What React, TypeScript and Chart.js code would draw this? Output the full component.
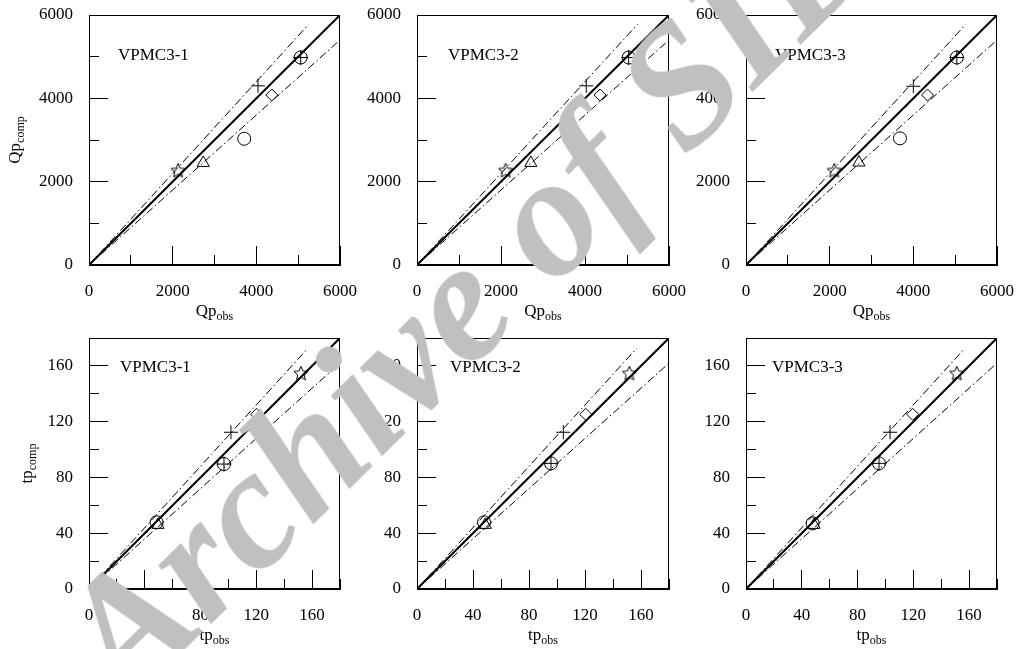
import React, { useEffect, useRef } from "react";
import { Chart, registerables } from "chart.js";

Chart.register(...registerables);

// ---------------- data ----------------
const panelNames = ["VPMC3-1", "VPMC3-2", "VPMC3-3"];
const markerNames = ["star", "triangle", "circle", "plus", "diamond", "circle-plus"];

// Peak discharge Qp: observed / computed
const qpObs1 = [2130, 2730, 3710, 4040, 4370, 5060];
const qpComp1 = [2270, 2450, 3030, 4300, 4080, 4980];
const qpObs2 = [2110, 2710, 3700, 4030, 4360, 5040];
const qpComp2 = [2270, 2450, 3030, 4300, 4080, 4980];
const qpObs3 = [2110, 2700, 3680, 4000, 4340, 5040];
const qpComp3 = [2270, 2460, 3040, 4290, 4080, 4980];

// Time to peak tp: observed / computed
const tpObs1 = [152, 49.5, 48.5, 101.8, 120.2, 96.8];
const tpComp1 = [154.7, 46, 47.8, 112.4, 125.3, 89.6];
const tpObs2 = [151.7, 48.8, 47.9, 104.5, 120.5, 95.7];
const tpComp2 = [154.7, 46, 47.8, 112.4, 125.3, 90.1];
const tpObs3 = [151.1, 48.8, 47.8, 103.3, 119.5, 95.4];
const tpComp3 = [154.7, 46, 47.1, 112.4, 125.3, 90.1];

// reference lines (comp = ratio * obs), drawn from 0 to the given obs value
const refRatios = [1, 1.1, 0.9];
const qpRefEnds = [6000, 5250, 6000];
const tpRefEnds = [180, 157, 180];

const qpMax = 6000;
const tpMax = 180;
const qpMajorTicks = [0, 2000, 4000, 6000];
const qpMinorTicks = [1000, 3000, 5000];
const tpMajorTicks = [0, 40, 80, 120, 160];
const tpMinorTicks = [20, 60, 100, 140, 180];

// ---------------- layout ----------------
const plotLeft = [89, 417, 746];
const plotRight = [340, 669, 997];
const plotTop = [15, 338];
const plotBottom = [265, 589];
const AXIS_W = 89;
const AXIS_H = 60;
const PAD_TOP = 15;
const PAD_RIGHT = 25;
const labelDx = [
  [29, 31, 29],
  [31, 33, 26],
];
const labelDy = [41, 30];
const yTitleBaseline = [20, 32];

const FONT_FAMILY = '"Liberation Serif", "Times New Roman", serif';
const tickFont = { family: FONT_FAMILY, size: 17 };

type PanelSpec = {
  row: number;
  col: number;
  name: string;
  obs: number[];
  comp: number[];
};

const panels: PanelSpec[] = [
  { row: 0, col: 0, name: panelNames[0], obs: qpObs1, comp: qpComp1 },
  { row: 0, col: 1, name: panelNames[1], obs: qpObs2, comp: qpComp2 },
  { row: 0, col: 2, name: panelNames[2], obs: qpObs3, comp: qpComp3 },
  { row: 1, col: 0, name: panelNames[0], obs: tpObs1, comp: tpComp1 },
  { row: 1, col: 1, name: panelNames[1], obs: tpObs2, comp: tpComp2 },
  { row: 1, col: 2, name: panelNames[2], obs: tpObs3, comp: tpComp3 },
];

let starImg: HTMLCanvasElement | null = null;
function getStar(): HTMLCanvasElement {
  if (starImg) return starImg;
  const size = 18;
  const c = document.createElement("canvas");
  c.width = size;
  c.height = size;
  const g = c.getContext("2d")!;
  g.translate(size / 2, size / 2 + 0.5);
  g.beginPath();
  for (let k = 0; k < 10; k++) {
    const r = k % 2 === 0 ? 7.5 : 3.4;
    const a = -Math.PI / 2 + (k * Math.PI) / 5;
    g.lineTo(r * Math.cos(a), r * Math.sin(a));
  }
  g.closePath();
  g.strokeStyle = "#000";
  g.lineWidth = 1;
  g.stroke();
  starImg = c;
  return c;
}

function drawSubText(
  ctx: CanvasRenderingContext2D,
  main: string,
  sub: string,
  cx: number,
  baseline: number
) {
  ctx.font = `17px ${FONT_FAMILY}`;
  const w1 = ctx.measureText(main).width;
  ctx.font = `12px ${FONT_FAMILY}`;
  const w2 = ctx.measureText(sub).width;
  const x0 = cx - (w1 + w2) / 2;
  ctx.textAlign = "left";
  ctx.textBaseline = "alphabetic";
  ctx.font = `17px ${FONT_FAMILY}`;
  ctx.fillText(main, x0, baseline);
  ctx.font = `12px ${FONT_FAMILY}`;
  ctx.fillText(sub, x0 + w1, baseline + 4);
}

function zeroPadding(s: any) {
  s.paddingLeft = 0;
  s.paddingRight = 0;
  s.paddingTop = 0;
  s.paddingBottom = 0;
}

function buildConfig(p: PanelSpec): any {
  const isQp = p.row === 0;
  const max = isQp ? qpMax : tpMax;
  const refEnds = isQp ? qpRefEnds : tpRefEnds;
  const major = isQp ? qpMajorTicks : tpMajorTicks;
  const minor = isQp ? qpMinorTicks : tpMinorTicks;
  const main = isQp ? "Qp" : "tp";

  const datasets: any[] = refRatios.map((r, i) => ({
    data: [
      { x: 0, y: 0 },
      { x: refEnds[i], y: refEnds[i] * r },
    ],
    showLine: true,
    borderColor: "#000",
    borderWidth: i === 0 ? 2 : 1,
    borderDash: i === 0 ? [] : [8, 3, 1.5, 3],
    pointRadius: 0,
    fill: false,
  }));

  markerNames.forEach((m, i) => {
    const pt = [{ x: p.obs[i], y: p.comp[i] }];
    const base = {
      data: pt,
      borderColor: "#000",
      backgroundColor: "rgba(0,0,0,0)",
      pointBorderWidth: 1,
      showLine: false,
    };
    if (m === "star") datasets.push({ ...base, pointStyle: getStar(), pointRadius: 7 });
    else if (m === "triangle") datasets.push({ ...base, pointStyle: "triangle", pointRadius: 7 });
    else if (m === "circle") datasets.push({ ...base, pointStyle: "circle", pointRadius: 6.5 });
    else if (m === "plus") datasets.push({ ...base, pointStyle: "cross", pointRadius: 7 });
    else if (m === "diamond") datasets.push({ ...base, pointStyle: "rectRot", pointRadius: 6 });
    else {
      datasets.push({ ...base, pointStyle: "circle", pointRadius: 6.5 });
      datasets.push({ ...base, pointStyle: "cross", pointRadius: 7.5 });
    }
  });

  const majorScale = (axis: "x" | "y", position: string) => ({
    type: "linear",
    axis,
    position,
    min: 0,
    max,
    afterBuildTicks: (s: any) => {
      s.ticks = major.map((v) => ({ value: v }));
    },
    afterFit: (s: any) => {
      if (axis === "x") s.height = AXIS_H;
      else s.width = AXIS_W;
      zeroPadding(s);
    },
    grid: {
      display: true,
      drawOnChartArea: false,
      drawTicks: true,
      tickLength: -19,
      color: "#000",
      lineWidth: 1,
    },
    border: { display: true, color: "#000", width: 1 },
    ticks: {
      padding: 35,
      color: "#000",
      font: tickFont,
      autoSkip: false,
      maxRotation: 0,
      callback: (v: any) => String(v),
    },
  });

  const minorScale = (axis: "x" | "y", position: string) => ({
    type: "linear",
    axis,
    position,
    min: 0,
    max,
    weight: -10,
    afterBuildTicks: (s: any) => {
      s.ticks = minor.map((v) => ({ value: v }));
    },
    afterFit: (s: any) => {
      if (axis === "x") s.height = 0;
      else s.width = 0;
      zeroPadding(s);
    },
    grid: {
      display: true,
      drawOnChartArea: false,
      drawTicks: true,
      tickLength: -10,
      color: "#000",
      lineWidth: 1,
    },
    border: { display: false },
    ticks: { display: false, padding: 0 },
  });

  const decor = {
    id: "panelDecor",
    afterDraw(chart: any) {
      const { ctx, chartArea: a } = chart;
      ctx.save();
      ctx.strokeStyle = "#000";
      ctx.lineWidth = 1;
      ctx.strokeRect(
        Math.round(a.left) + 0.5,
        Math.round(a.top) + 0.5,
        Math.round(a.right - a.left) - 1,
        Math.round(a.bottom - a.top) - 1
      );
      ctx.fillStyle = "#000";
      ctx.font = `17px ${FONT_FAMILY}`;
      ctx.textAlign = "left";
      ctx.textBaseline = "middle";
      ctx.fillText(p.name, a.left + labelDx[p.row][p.col], a.top + labelDy[p.row]);
      drawSubText(ctx, main, "obs", (a.left + a.right) / 2, a.bottom + 51);
      if (p.col === 0) {
        ctx.translate(yTitleBaseline[p.row], (a.top + a.bottom) / 2);
        ctx.rotate(-Math.PI / 2);
        drawSubText(ctx, main, "comp", 0, 0);
      }
      ctx.restore();
    },
  };

  return {
    type: "scatter",
    data: { datasets },
    options: {
      animation: false,
      responsive: false,
      maintainAspectRatio: false,
      events: [],
      layout: { padding: { top: PAD_TOP, right: PAD_RIGHT, left: 0, bottom: 0 } },
      plugins: { legend: { display: false }, tooltip: { enabled: false } },
      scales: {
        x: majorScale("x", "bottom"),
        xm: minorScale("x", "bottom"),
        y: majorScale("y", "left"),
        ym: minorScale("y", "left"),
      },
    },
    plugins: [decor],
  };
}

function Panel({ p }: { p: PanelSpec }) {
  const ref = useRef<HTMLCanvasElement>(null);
  useEffect(() => {
    const chart = new Chart(ref.current as HTMLCanvasElement, buildConfig(p));
    return () => chart.destroy();
  }, [p]);
  const left = plotLeft[p.col] - AXIS_W;
  const top = plotTop[p.row] - PAD_TOP;
  const width = plotRight[p.col] - plotLeft[p.col] + AXIS_W + PAD_RIGHT;
  const height = plotBottom[p.row] - plotTop[p.row] + PAD_TOP + AXIS_H;
  return (
    <canvas
      ref={ref}
      width={width}
      height={height}
      style={{ position: "absolute", left, top, width, height }}
    />
  );
}

export default function App() {
  return (
    <div
      style={{
        position: "absolute",
        left: 0,
        top: 0,
        width: 1020,
        height: 649,
        overflow: "hidden",
        background: "#fff",
      }}
    >
      {panels.map((p, i) => (
        <Panel key={i} p={p} />
      ))}
      <div
        style={{
          position: "absolute",
          left: 100,
          top: 680,
          transformOrigin: "0 0",
          transform: "rotate(-44.5deg) translate(0px, -106px)",
          font: `italic bold 172px ${FONT_FAMILY}`,
          lineHeight: 1,
          color: "#c0c0c0",
          whiteSpace: "nowrap",
          pointerEvents: "none",
        }}
      >
        Archive of SID
      </div>
    </div>
  );
}
